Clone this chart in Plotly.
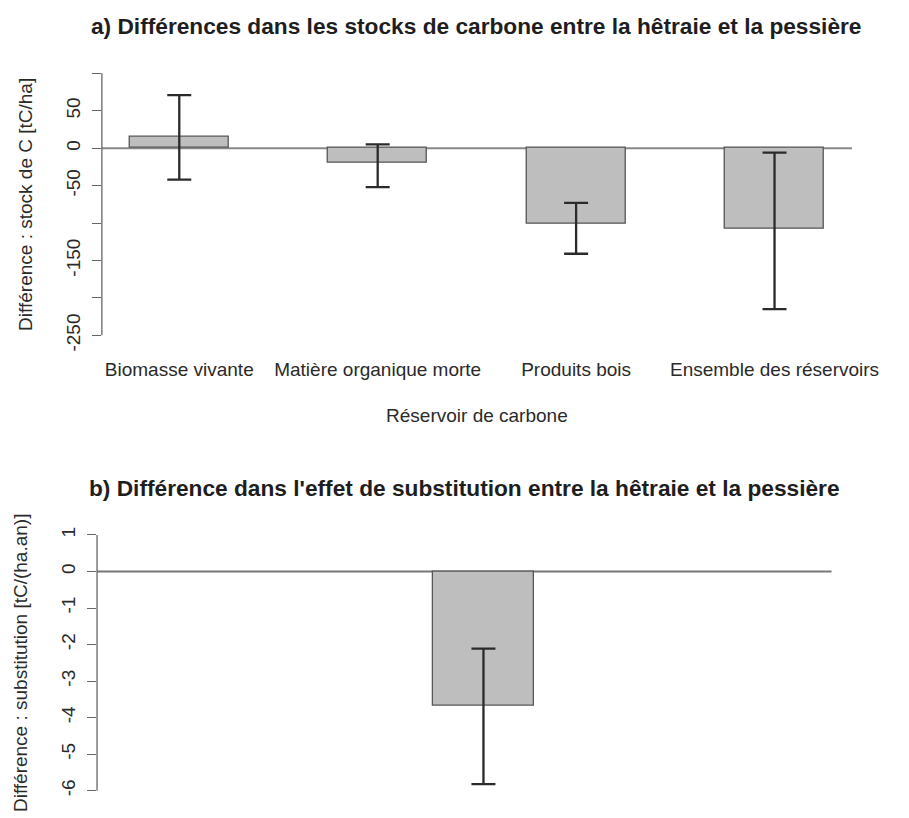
import plotly.graph_objects as go

# ---- data ----
categories = ["Biomasse vivante", "Matière organique morte", "Produits bois", "Ensemble des réservoirs"]
stock_diff = [15, -20, -101, -108]
stock_err_high = [71, 5, -73, -6]
stock_err_low = [-42, -52, -141, -215]

subst_values = [-3.67]
subst_err_high = [-2.11]
subst_err_low = [-5.82]

top_ticks = [100, 50, 0, -50, -100, -150, -200, -250]
top_tick_labels = ["", "50", "0", "-50", "", "-150", "", "-250"]
bot_ticks = [1, 0, -1, -2, -3, -4, -5, -6]
bot_tick_labels = ["1", "0", "-1", "-2", "-3", "-4", "-5", "-6"]

title_a = "a) Différences dans les stocks de carbone entre la hêtraie et la pessière"
title_b = "b) Différence dans l'effet de substitution entre la hêtraie et la pessière"
ylab_a = "Différence : stock de C [tC/ha]"
ylab_b = "Différence : substitution [tC/(ha.an)]"
xlab_a = "Réservoir de carbone"

W, H = 909, 818
FONT = "Liberation Sans, Arial, Helvetica, sans-serif"
TXT = "#2a2a2a"
LAB = 19


def px_x(p):
    return p / W


def px_y(p):
    return 1 - p / H


# plot regions (page pixels)
A_L, A_R, A_T, A_B = 105, 878, 63.3, 348.4
B_L, B_R, B_T, B_B = 100, 857, 528.6, 806.8

fig = go.Figure()

bar_style = dict(marker=dict(color="#bebebe", line=dict(color="#555555", width=1.3)))
err_style = dict(color="#2a2a2a", thickness=2.3, width=12)

# top panel
x_pos_a = [1.5 + 2 * i for i in range(len(categories))]
fig.add_trace(go.Bar(
    x=x_pos_a, y=stock_diff, width=1.0,
    error_y=dict(type="data", symmetric=False,
                 array=[h - v for h, v in zip(stock_err_high, stock_diff)],
                 arrayminus=[v - l for l, v in zip(stock_err_low, stock_diff)],
                 **err_style),
    xaxis="x", yaxis="y", showlegend=False, **bar_style))

# bottom panel
fig.add_trace(go.Bar(
    x=[1], y=subst_values, width=1.0,
    error_y=dict(type="data", symmetric=False,
                 array=[h - v for h, v in zip(subst_err_high, subst_values)],
                 arrayminus=[v - l for l, v in zip(subst_err_low, subst_values)],
                 **err_style),
    xaxis="x2", yaxis="y2", showlegend=False, **bar_style))

tickfont = dict(family=FONT, size=LAB, color=TXT)
labfont = dict(family=FONT, size=LAB, color=TXT)

fig.update_layout(
    width=W, height=H,
    margin=dict(l=0, r=0, t=0, b=0),
    paper_bgcolor="white", plot_bgcolor="white",
    bargap=0,
    xaxis=dict(domain=[px_x(A_L), px_x(A_R)], range=[0.72, 8.28],
               tickvals=x_pos_a, ticktext=categories, tickfont=tickfont,
               ticks="outside", ticklen=6, tickcolor="rgba(0,0,0,0)",
               showgrid=False, zeroline=False, showline=False, anchor="y",
               title=dict(text=xlab_a, font=labfont, standoff=30)),
    yaxis=dict(domain=[px_y(A_B), px_y(A_T)], range=[-264, 114],
               tickvals=top_ticks, ticktext=top_tick_labels, tickangle=-90,
               tickfont=tickfont, ticks="outside", ticklen=9, tickcolor="#666666", tickwidth=1.2,
               ticklabelstandoff=4,
               showgrid=False, zeroline=False, showline=False, anchor="x",
               title=dict(text=ylab_a, font=labfont, standoff=25)),
    xaxis2=dict(domain=[px_x(B_L), px_x(B_R)], range=[-2.83, 4.45],
                showticklabels=False, ticks="", showgrid=False, zeroline=False,
                showline=False, anchor="y2"),
    yaxis2=dict(domain=[px_y(B_B), px_y(B_T)], range=[-6.28, 1.28],
                tickvals=bot_ticks, ticktext=bot_tick_labels, tickangle=-90,
                tickfont=tickfont, ticks="outside", ticklen=9, tickcolor="#666666", tickwidth=1.2,
                ticklabelstandoff=4,
                showgrid=False, zeroline=False, showline=False, anchor="x2",
                title=dict(text=ylab_b, font=labfont, standoff=25)),
)

# R-style axis lines spanning first to last tick
fig.add_shape(type="line", xref="paper", yref="y", x0=px_x(A_L), x1=px_x(A_L),
              y0=min(top_ticks), y1=max(top_ticks), line=dict(color="#666666", width=1.3))
fig.add_shape(type="line", xref="paper", yref="y2", x0=px_x(B_L), x1=px_x(B_L),
              y0=min(bot_ticks), y1=max(bot_ticks), line=dict(color="#666666", width=1.3))
# zero lines (abline h = 0)
fig.add_shape(type="line", xref="paper", yref="y", x0=px_x(A_L), x1=px_x(A_R),
              y0=0, y1=0, line=dict(color="#888888", width=2), layer="below")
fig.add_shape(type="line", xref="paper", yref="y2", x0=px_x(B_L), x1=px_x(B_R),
              y0=0, y1=0, line=dict(color="#777777", width=2), layer="below")

# titles
fig.add_annotation(text="<b>" + title_a + "</b>", xref="paper", yref="paper",
                   x=px_x(490.5), y=px_y(26), showarrow=False, xanchor="center", yanchor="middle",
                   font=dict(family=FONT, size=22.7, color="#1e1e1e"))
fig.add_annotation(text="<b>" + title_b + "</b>", xref="paper", yref="paper",
                   x=px_x(478.5), y=px_y(492), showarrow=False, xanchor="center", yanchor="middle",
                   font=dict(family=FONT, size=22.7, color="#1e1e1e"))

# remove the default 8px body margin so the figure fills the window exactly
fig.write_html("out.html", config={"displayModeBar": False},
               post_script="document.body.style.margin='0';document.body.style.overflow='hidden';")
